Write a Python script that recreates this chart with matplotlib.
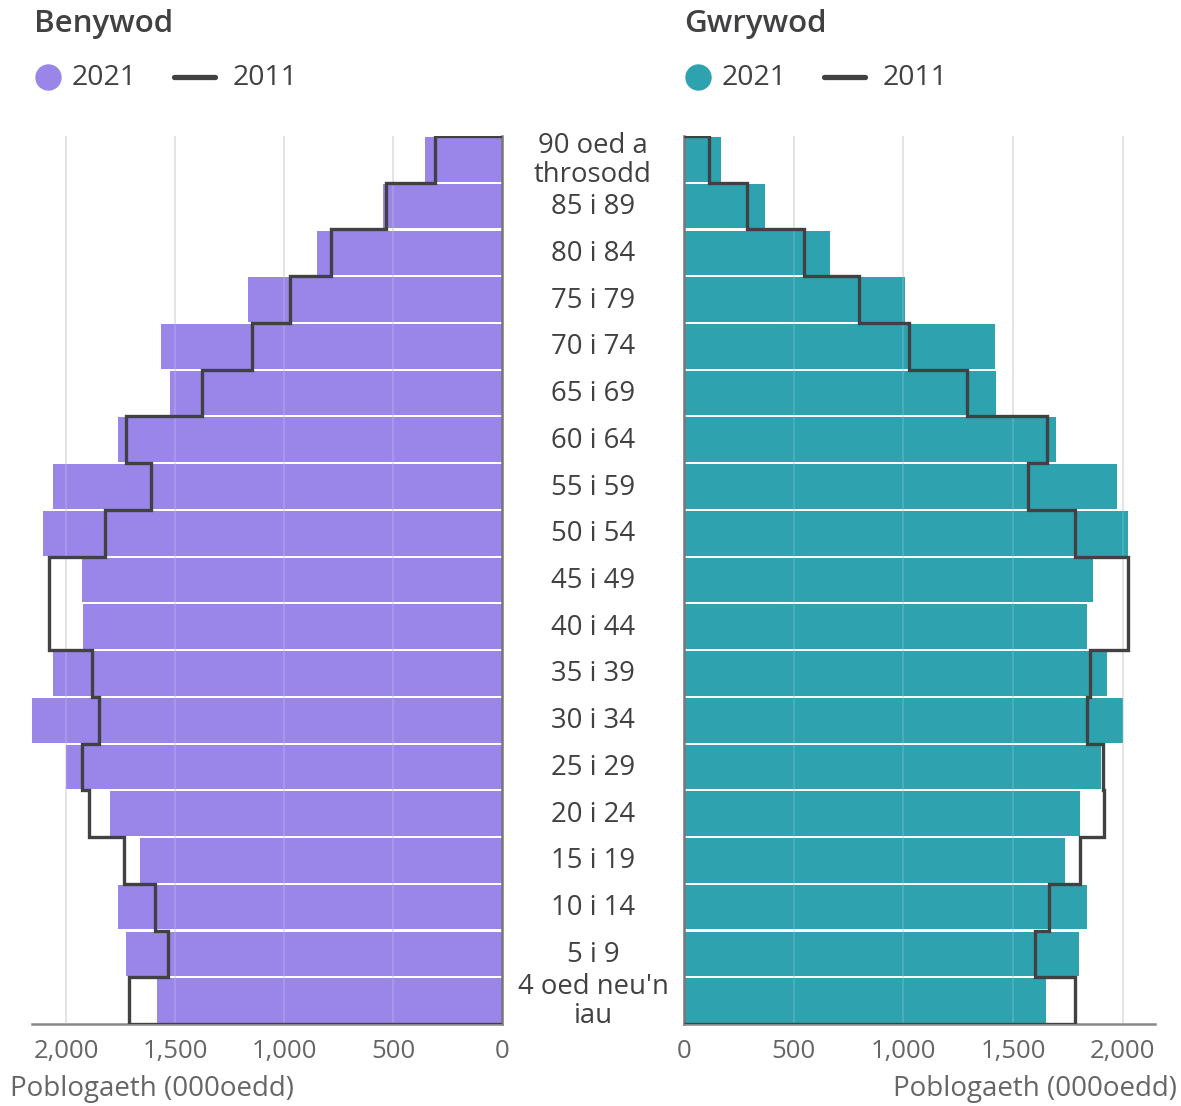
import numpy as np
import matplotlib.pyplot as plt
from matplotlib.lines import Line2D

plt.rcParams['font.family'] = ['Open Sans', 'DejaVu Sans']

# age groups, youngest first (bottom of the pyramid)
ages = ['4 oed neu\'n\niau', '5 i 9', '10 i 14', '15 i 19', '20 i 24', '25 i 29',
        '30 i 34', '35 i 39', '40 i 44', '45 i 49', '50 i 54', '55 i 59',
        '60 i 64', '65 i 69', '70 i 74', '75 i 79', '80 i 84', '85 i 89',
        '90 oed a\nthrosodd']

# population, thousands
female_2021 = [1583, 1725, 1761, 1661, 1798, 2000, 2156, 2060, 1922, 1927,
               2106, 2060, 1761, 1523, 1564, 1165, 849, 546, 353]
female_2011 = [1711, 1532, 1592, 1734, 1894, 1927, 1849, 1881, 2078, 2078,
               1821, 1610, 1725, 1376, 1147, 972, 784, 532, 307]
male_2021 = [1649, 1800, 1836, 1736, 1804, 1900, 2000, 1927, 1836, 1863,
             2023, 1973, 1695, 1421, 1417, 1007, 665, 369, 169]
male_2011 = [1781, 1599, 1663, 1804, 1913, 1909, 1836, 1850, 2023, 2023,
             1781, 1567, 1654, 1289, 1025, 797, 547, 287, 114]

ticks = [0, 500, 1000, 1500, 2000]

purple = '#9a86e8'
teal = '#2fa2b0'
dark = '#414042'
grey = '#666666'

W, H = 1181, 1106
fig = plt.figure(figsize=(W / 100, H / 100), dpi=100)


def px_axes(x0, x1, y0, y1):
    return fig.add_axes([x0 / W, 1 - y1 / H, (x1 - x0) / W, (y1 - y0) / H])


ax_f = px_axes(32, 502, 136, 1024)
ax_m = px_axes(684, 1155, 136, 1024)

y = np.arange(len(ages))
edges = np.arange(len(ages) + 1) - 0.5

for ax, v21, v11, col in [(ax_f, female_2021, female_2011, purple),
                          (ax_m, male_2021, male_2011, teal)]:
    ax.barh(y, v21, height=0.955, color=col, zorder=2)
    ax.stairs(v11, edges, orientation='horizontal', baseline=0, fill=False,
              color=dark, linewidth=2.4, zorder=4)
    ax.set_ylim(-0.5, len(ages) - 0.5)
    ax.set_yticks([])
    ax.set_xticks(ticks)
    ax.set_xticklabels([f'{t:,}' for t in ticks])
    ax.tick_params(axis='x', length=0, pad=11, labelsize=18.5, labelcolor=grey)
    ax.grid(axis='x', color='#dddddd', linewidth=1.3, zorder=0)
    for t in ticks[1:]:
        ax.axvline(t, color='white', alpha=0.15, linewidth=1.3, zorder=3)
    ax.set_axisbelow(True)
    for s in ['top', 'left', 'right', 'bottom']:
        ax.spines[s].set_visible(False)
    ax.spines['bottom'].set_visible(True)
    ax.spines['bottom'].set_color('#888888')
    ax.spines['bottom'].set_linewidth(1.8)

ax_f.set_xlim(2156, 0)
ax_f.spines['right'].set_visible(True)
ax_f.spines['right'].set_color('#777777')
ax_f.spines['right'].set_linewidth(1.8)

ax_m.set_xlim(0, 2146)
ax_m.spines['left'].set_visible(True)
ax_m.spines['left'].set_color('#777777')
ax_m.spines['left'].set_linewidth(1.8)

# age labels in the middle gap
for i, lab in enumerate(ages):
    yc = ax_f.transData.transform((0, i))[1]
    fig.text(593 / W, (yc - 1) / H, lab, ha='center', va='center', fontsize=19.8,
             color=dark, linespacing=1.05)

# titles and legends
for x0, title, col in [(34, 'Benywod', purple), (684, 'Gwrywod', teal)]:
    fig.text(x0 / W, 1 - 24 / H, title, ha='left', va='center', fontsize=22.5,
             fontweight='semibold', color=dark)
    fig.add_artist(Line2D([(x0 + 14) / W], [1 - 77 / H], marker='o',
                          markersize=18, color=col, linestyle='none',
                          transform=fig.transFigure))
    fig.text((x0 + 38) / W, 1 - 78 / H, '2021', ha='left', va='center',
             fontsize=20.5, color=dark)
    fig.add_artist(Line2D([(x0 + 140) / W, (x0 + 181) / W], [1 - 77 / H] * 2,
                          color=dark, linewidth=3.8, solid_capstyle='round',
                          transform=fig.transFigure))
    fig.text((x0 + 199) / W, 1 - 78 / H, '2011', ha='left', va='center',
             fontsize=20.5, color=dark)

fig.text(10 / W, 1 - 1089 / H, 'Poblogaeth (000oedd)', ha='left', va='center',
         fontsize=20, color=grey)
fig.text(1177 / W, 1 - 1089 / H, 'Poblogaeth (000oedd)', ha='right', va='center',
         fontsize=20, color=grey)

fig.savefig('out.png', dpi=100)
